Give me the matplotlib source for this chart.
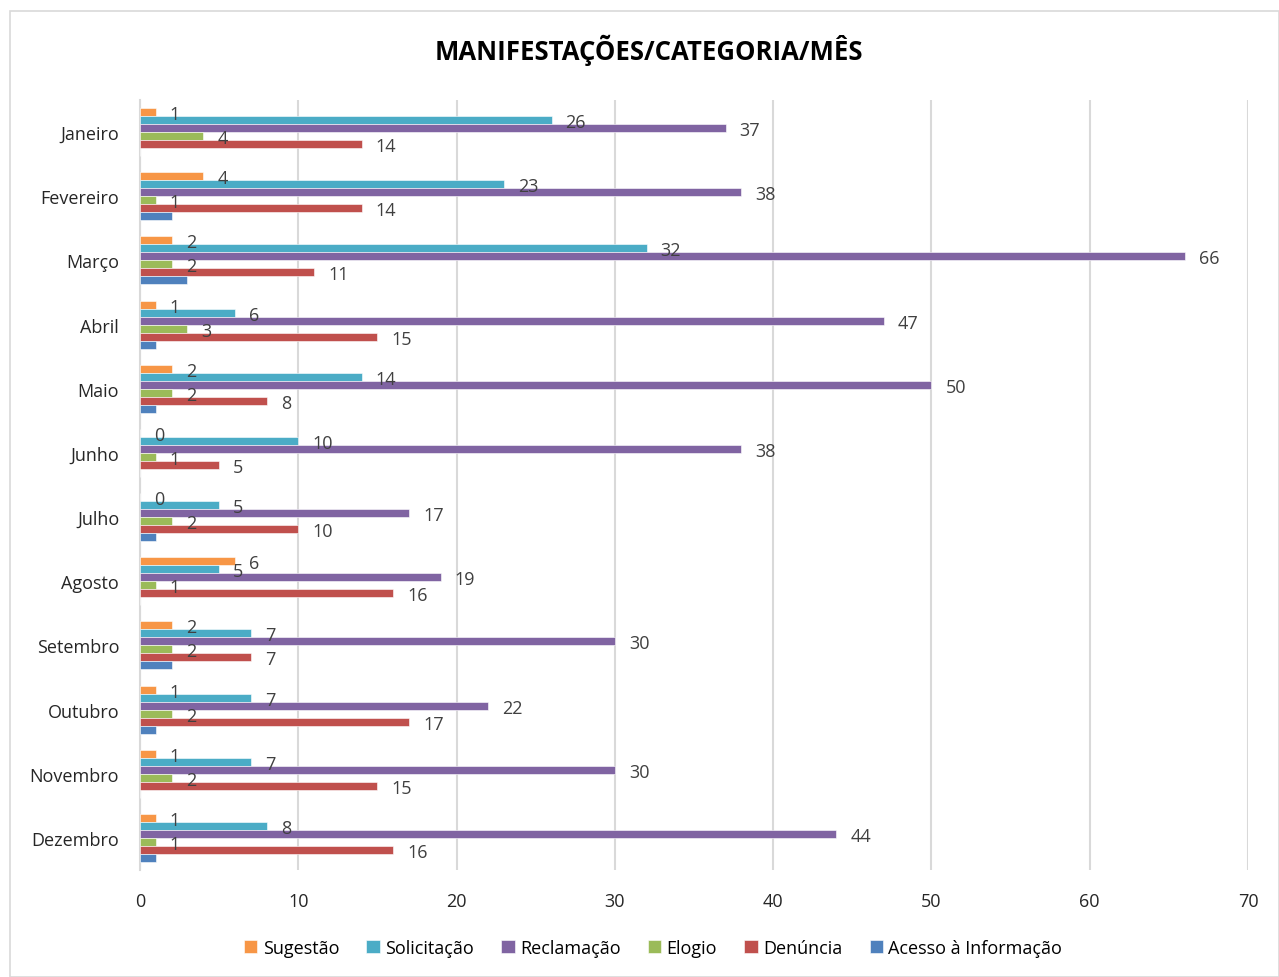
import numpy as np
import matplotlib.pyplot as plt
from matplotlib.patches import Rectangle

plt.rcParams['font.family'] = ['Open Sans', 'DejaVu Sans']

# Data
meses = ["Janeiro", "Fevereiro", "Março", "Abril", "Maio", "Junho",
         "Julho", "Agosto", "Setembro", "Outubro", "Novembro", "Dezembro"]
sugestao = [1, 4, 2, 1, 2, 0, 0, 6, 2, 1, 1, 1]
solicitacao = [26, 23, 32, 6, 14, 10, 5, 5, 7, 7, 7, 8]
reclamacao = [37, 38, 66, 47, 50, 38, 17, 19, 30, 22, 30, 44]
elogio = [4, 1, 2, 3, 2, 1, 2, 1, 2, 2, 2, 1]
denuncia = [14, 14, 11, 15, 8, 5, 10, 16, 7, 17, 15, 16]
acesso = [0, 2, 3, 1, 1, 0, 1, 0, 2, 1, 0, 1]

series = [
    ("Sugestão", sugestao, "#F79646", True),
    ("Solicitação", solicitacao, "#4BACC6", True),
    ("Reclamação", reclamacao, "#8064A2", True),
    ("Elogio", elogio, "#9BBB59", True),
    ("Denúncia", denuncia, "#C0504D", True),
    ("Acesso à Informação", acesso, "#4F81BD", False),
]

fig = plt.figure(figsize=(12.79, 9.78), dpi=100)
fig.patches.append(Rectangle((10 / 1279, 0), 1 - 10 / 1279, 1 - 12 / 978,
                             transform=fig.transFigure, fill=False,
                             edgecolor="#D9D9D9", linewidth=1.2))

ax = fig.add_axes([140 / 1279, 1 - 871 / 978, (1248 - 140) / 1279, 770 / 978])

y = np.arange(len(meses))
h = 0.125
for i, (nome, vals, cor, rotulo) in enumerate(series):
    pos = y - 0.3125 + i * h
    ax.barh(pos, vals, height=h, color=cor, edgecolor="white", linewidth=0.4,
            label=nome, zorder=3)
    if rotulo:
        for p, v in zip(pos, vals):
            ax.annotate(str(v), (v, p), xytext=(14, -2), textcoords="offset pixels",
                        ha="left", va="center", fontsize=13, color="#404040",
                        zorder=6)

ax.set_xlim(0, 70)
ax.set_ylim(len(meses) - 0.5, -0.5)
ax.set_xticks(range(0, 71, 10))
ax.set_yticks(y)
ax.set_yticklabels(meses)
ax.tick_params(axis="both", length=0, labelsize=13, labelcolor="#262626")
ax.tick_params(axis="x", pad=16)
ax.tick_params(axis="y", pad=15)
ax.grid(axis="x", color="#D9D9D9", linewidth=1.5, zorder=0)
for s in ["top", "right", "bottom"]:
    ax.spines[s].set_visible(False)
ax.spines["left"].set_color("#D9D9D9")
ax.spines["left"].set_linewidth(1.5)

fig.text(649 / 1279, 1 - 50 / 978, "MANIFESTAÇÕES/CATEGORIA/MÊS", ha="center",
         va="center", fontsize=18.5, fontweight="bold", color="#000000")

fig.legend(loc="center", bbox_to_anchor=(653 / 1279, 1 - 949 / 978), ncol=6,
           frameon=False, fontsize=13, handlelength=0.75, handleheight=0.75,
           handletextpad=0.3, columnspacing=1.5)

plt.savefig("out.png", dpi=100)
